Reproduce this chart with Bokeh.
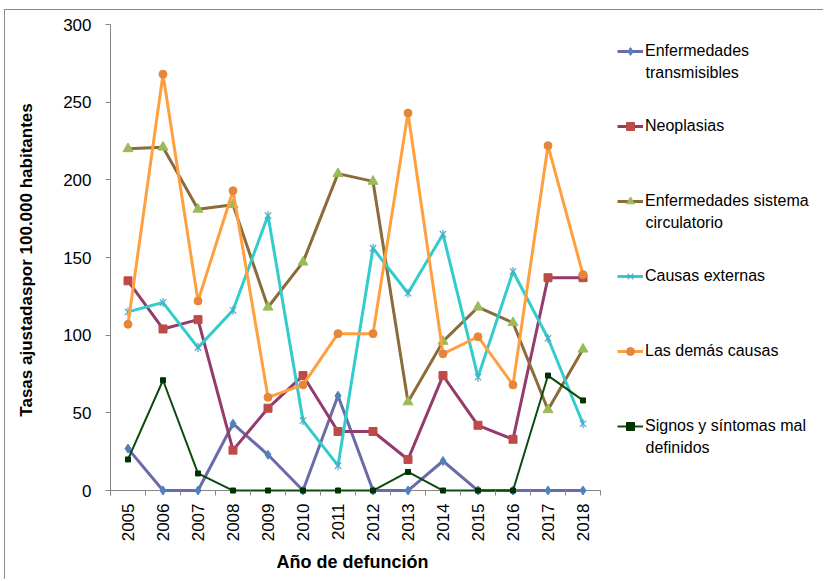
import math
from bokeh.plotting import figure
from bokeh.models import Range1d, FixedTicker, Legend, LegendItem, Label, Title
from bokeh.embed import file_html
from bokeh.resources import INLINE

# ---------------- data ----------------
years = ["2005", "2006", "2007", "2008", "2009", "2010", "2011",
         "2012", "2013", "2014", "2015", "2016", "2017", "2018"]

transmisibles = [27, 0, 0, 43, 23, 0, 61, 0, 0, 19, 0, 0, 0, 0]
neoplasias = [135, 104, 110, 26, 53, 74, 38, 38, 20, 74, 42, 33, 137, 137]
circulatorio = [220, 221, 181, 184, 118, 147, 204, 199, 57, 96, 118, 108, 52, 91]
externas = [115, 121, 92, 116, 177, 45, 16, 156, 127, 165, 73, 141, 98, 43]
demas = [107, 268, 122, 193, 60, 68, 101, 101, 243, 88, 99, 68, 222, 139]
signos = [20, 71, 11, 0, 0, 0, 0, 0, 12, 0, 0, 0, 74, 58]

series_names = ["Enfermedades\ntransmisibles", "Neoplasias",
                "Enfermedades sistema\ncirculatorio", "Causas externas",
                "Las demás causas", "Signos y síntomas mal\ndefinidos"]
y_ticks = [0, 50, 100, 150, 200, 250, 300]
y_title = "Tasas ajustadaspor 100.000 habitantes"
x_title = "Año de defunción"

# ---------------- styles ----------------
FONT = "Liberation Sans"
AXIS_GREY = "#868686"
styles = [
    dict(line="#6B6BAA", lw=3, marker="diamond", size=9, fill="#4F81BD", mline="#4F81BD"),
    dict(line="#953B6C", lw=3, marker="square", size=8, fill="#BE4B48", mline="#BE4B48"),
    dict(line="#8B6B3A", lw=3, marker="triangle", size=10, fill="#9BBB59", mline="#9BBB59"),
    dict(line="#33CCCC", lw=3, marker="star6", size=9, fill=None, mline="#4BACC6"),
    dict(line="#FFA040", lw=3, marker="circle", size=8, fill="#E5873A", mline="#E5873A"),
    dict(line="#0E4A0E", lw=2, marker="square", size=5, fill="#003300", mline="#003300"),
]
data = [transmisibles, neoplasias, circulatorio, externas, demas, signos]

W, H = 819, 570
LEFT, TOP, BOTTOM = 105, 14, 85
STEP = 35.0  # px per category
frame_w = W - LEFT
n = len(years)
xs = list(range(n))

p = figure(width=W, height=H, output_backend="svg", toolbar_location=None,
           x_range=Range1d(-0.5, -0.5 + frame_w / STEP), y_range=Range1d(-3.2, 300),
           min_border_left=LEFT, min_border_right=0, min_border_top=TOP,
           min_border_bottom=BOTTOM, background_fill_color="white",
           border_fill_color="white")
p.outline_line_color = None
p.grid.visible = False
p.styles = {"margin-left": "4px", "margin-top": "9px",
            "border-left": "1px solid #8c8c8c", "border-top": "1px solid #8c8c8c"}

# y axis
yax = p.yaxis[0]
yax.ticker = FixedTicker(ticks=y_ticks)
yax.major_tick_out = 5
yax.major_tick_in = 0
yax.minor_tick_out = 0
yax.minor_tick_in = 0
yax.axis_line_color = AXIS_GREY
yax.major_tick_line_color = AXIS_GREY
yax.major_label_text_font = FONT
yax.major_label_text_font_size = "17px"
yax.major_label_text_color = "black"
yax.major_label_standoff = 14
yax.axis_label = y_title
yax.axis_label_text_font = FONT
yax.axis_label_text_font_size = "17px"
yax.axis_label_text_font_style = "bold"
yax.axis_label_text_color = "black"
yax.axis_label_standoff = 24

# x axis (labels at category centres, ticks at category boundaries)
xax = p.xaxis[0]
xax.ticker = FixedTicker(ticks=xs, minor_ticks=[i - 0.5 for i in range(n + 1)])
xax.major_label_overrides = {i: y for i, y in enumerate(years)}
xax.major_label_orientation = math.pi / 2
xax.axis_line_color = None
xax.major_tick_out = 0
xax.major_tick_in = 0
xax.minor_tick_in = 5
xax.minor_tick_out = 0
xax.minor_tick_line_color = AXIS_GREY
xax.major_label_text_font = FONT
xax.major_label_text_font_size = "17px"
xax.major_label_text_color = "black"
xax.major_label_standoff = 8

# x title, placed under the data area
p.add_layout(Title(text=x_title, align="left", offset=166, standoff=10,
                   text_font=FONT, text_font_size="18px", text_font_style="bold",
                   text_color="black"), "below")

# visible x axis line at y = 0 across the categories
p.segment(x0=[-0.5], y0=[0], x1=[n - 0.5], y1=[0], line_color=AXIS_GREY, line_width=1)

items = []
for name, vals, st in zip(series_names, data, styles):
    lr = p.line(xs, vals, line_color=st["line"], line_width=st["lw"])
    if st["marker"] == "star6":
        s1 = p.scatter(xs, vals, marker="x", size=st["size"],
                       line_color=st["mline"], line_width=1.2)
        s2 = p.scatter(xs, vals, marker="dash", angle=math.pi / 2, size=st["size"],
                       line_color=st["mline"], line_width=1.2)
        rends = [lr, s1, s2]
    else:
        sr = p.scatter(xs, vals, marker=st["marker"], size=st["size"],
                       fill_color=st["fill"], line_color=st["mline"])
        rends = [lr, sr]
    items.append(LegendItem(label=name.split("\n")[0], renderers=rends))

legend = Legend(items=items, location=(507, 59.5), orientation="vertical",
                padding=0, margin=0, spacing=55, glyph_width=26, glyph_height=20,
                label_height=20, label_standoff=2, label_text_font=FONT,
                label_text_font_size="16px", label_text_color="black",
                background_fill_alpha=0, border_line_color=None)
p.add_layout(legend)

# second lines of the two-line legend labels
for i, name in enumerate(series_names):
    parts = name.split("\n")
    if len(parts) > 1:
        p.add_layout(Label(x=535, y=423.5 - 75 * i, x_units="screen",
                           y_units="screen", text=parts[1], text_font=FONT,
                           text_font_size="16px", text_color="black",
                           text_baseline="middle", text_align="left"))

open("out.html", "w").write(file_html(p, INLINE))
